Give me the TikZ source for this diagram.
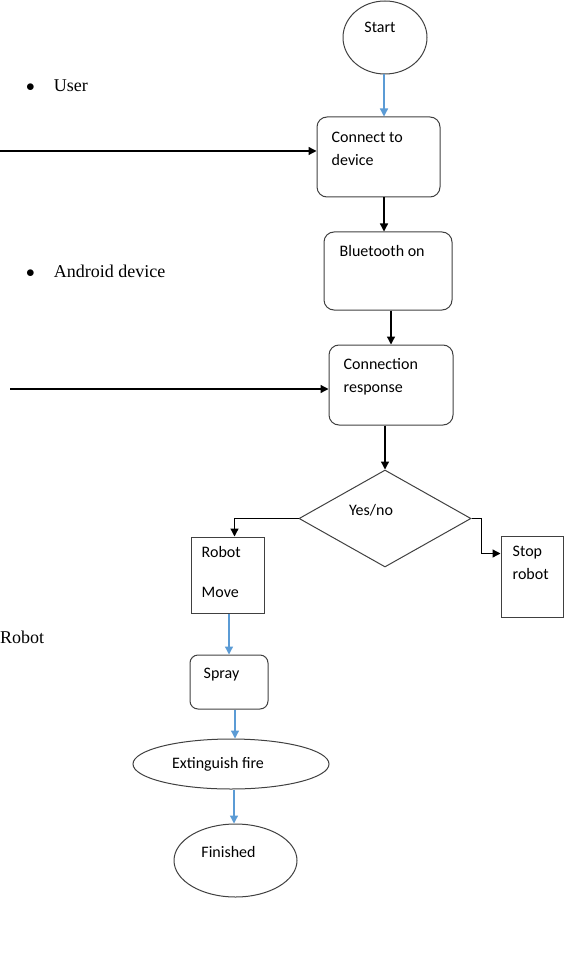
\documentclass[tikz,border=0pt]{standalone}
\usepackage{fontspec}
\setmainfont{Liberation Serif}
\newfontfamily\boxfont{Carlito}
\usetikzlibrary{shapes.geometric, arrows.meta, positioning, calc}
\definecolor{flowblue}{RGB}{91,155,213}
\tikzset{
    rbox/.style={draw=black!75, rectangle, rounded corners=10pt, line width=1pt, inner sep=0pt},
    sbox/.style={draw=black!75, rectangle, line width=1pt, inner sep=0pt},
    oval/.style={draw=black!75, ellipse, line width=1pt, inner sep=0pt},
    decision/.style={draw=black!75, diamond, line width=1pt, inner sep=0pt},
    txt/.style={inner sep=0pt, align=left, font=\boxfont\fontsize{16}{23}\selectfont},
    side/.style={inner sep=0pt, anchor=base west, font=\fontsize{18}{22}\selectfont},
    arrow/.style={draw, -{Triangle[length=8pt, width=8pt]}, line width=1.3pt},
    barrow/.style={arrow, color=flowblue}
}
\begin{document}
\begin{tikzpicture}[x=1pt, y=-1pt]
    \useasboundingbox (0,0) rectangle (570,973);

    % left side labels
    \node [side] (user) at (26,92) {$\bullet$\hspace{19pt}User};
    \node [side] (android) at (26,277) {$\bullet$\hspace{19pt}Android device};
    \node [side] (robot) at (0,643) {Robot};

    % flow
    \node [oval, minimum width=84pt, minimum height=73pt] (start) at (385,37.5) {};
    \node [rbox, minimum width=123pt, minimum height=80pt] (con) at (378.5,157) {};
    \node [rbox, minimum width=128pt, minimum height=78pt] (blt) at (388,271) {};
    \node [rbox, minimum width=124pt, minimum height=80pt] (rsp) at (391,385) {};
    \node [decision, minimum width=172pt, minimum height=97pt] (dia) at (385,518.5) {};
    \node [sbox, minimum width=73pt, minimum height=76pt] (mov) at (227.5,575) {};
    \node [sbox, minimum width=62pt, minimum height=81pt] (stp) at (532,576.5) {};
    \node [rbox, rounded corners=8pt, minimum width=78pt, minimum height=54pt] (spr) at (229,682) {};
    \node [oval, minimum width=196pt, minimum height=50pt] (ext) at (231,764) {};
    \node [oval, minimum width=123pt, minimum height=73pt] (fin) at (235.5,860.5) {};

    % texts
    \node [txt, anchor=base] (start-t) at (380,33) {Start};
    \node [txt, anchor=north west, below right=15pt and 15pt of con.north west] (con-t) {Connect to\\device};
    \node [txt, anchor=north west, below right=14pt and 16pt of blt.north west] (blt-t) {Bluetooth on};
    \node [txt, anchor=north west, below right=14pt and 15pt of rsp.north west] (rsp-t) {Connection\\response};
    \node [txt, anchor=base] (dia-t) at (371,515) {Yes/no};
    \node [txt, anchor=north west, below right=10pt and 11pt of mov.north west] (mov-t) {Robot\\[17pt]Move};
    \node [txt, anchor=north west, below right=10pt and 12pt of stp.north west] (stp-t) {Stop\\robot};
    \node [txt, anchor=north west, below right=13pt and 14pt of spr.north west] (spr-t) {Spray};
    \node [txt, anchor=base] (ext-t) at (218,768) {Extinguish fire};
    \node [txt, anchor=base] (fin-t) at (228.5,857) {Finished};

    \coordinate (user-in) at (0,151);
    \coordinate (dev-in) at (10,389);

    \draw [barrow] (start.south -| 384,0) -- (384,0 |- con.north);
    \draw [arrow] (user-in) -- (user-in -| con.west);
    \draw [arrow] (con.south -| 384,0) -- (384,0 |- blt.north);
    \draw [arrow] (blt.south -| rsp.north) -- (rsp.north);
    \draw [arrow] (dev-in) -- (dev-in -| rsp.west);
    \draw [arrow] (rsp.south -| dia.north) -- (dia.north);
    \draw [arrow] (dia.west) -| ([xshift=7pt]mov.north);
    \draw [arrow] (dia.east) -- ++(10,0) |- ([yshift=23pt]stp.west);
    \draw [barrow] (mov.south -| spr.north) -- (spr.north);
    \draw [barrow] ([xshift=6pt]spr.south) -- ([xshift=6pt]spr.south |- ext.north);
    \draw [barrow] ([xshift=3pt]ext.south) -- ([xshift=3pt]ext.south |- fin.north);
\end{tikzpicture}
\end{document}
